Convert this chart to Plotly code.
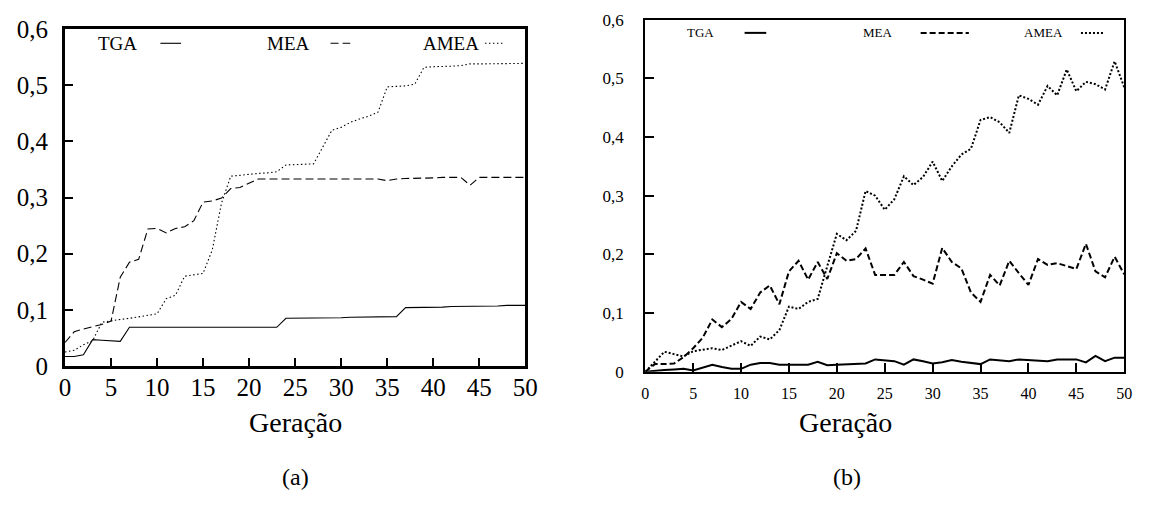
import plotly.graph_objects as go

# ---------------- data ----------------
gen = list(range(0, 51))

# panel (a)
tga_a = [0.017, 0.017, 0.02, 0.047, 0.046, 0.045, 0.044, 0.069, 0.069, 0.069,
         0.069, 0.069, 0.069, 0.069, 0.069, 0.069, 0.069, 0.069, 0.069, 0.069,
         0.069, 0.069, 0.069, 0.069, 0.085, 0.085, 0.085, 0.086, 0.086, 0.086,
         0.086, 0.087, 0.087, 0.087, 0.087, 0.088, 0.088, 0.104, 0.104, 0.105,
         0.105, 0.105, 0.106, 0.106, 0.106, 0.107, 0.107, 0.107, 0.108, 0.108,
         0.108]
mea_a = [0.042, 0.061, 0.066, 0.07, 0.074, 0.08, 0.158, 0.185, 0.19, 0.244,
         0.245, 0.237, 0.245, 0.248, 0.259, 0.292, 0.294, 0.299, 0.316, 0.318,
         0.326, 0.333, 0.333, 0.333, 0.333, 0.333, 0.333, 0.333, 0.333, 0.333,
         0.333, 0.333, 0.333, 0.333, 0.333, 0.330, 0.333, 0.334, 0.334, 0.335,
         0.335, 0.336, 0.336, 0.336, 0.322, 0.336, 0.336, 0.336, 0.336, 0.336,
         0.336]
amea_a = [0.025, 0.028, 0.038, 0.045, 0.078, 0.081, 0.083, 0.085, 0.088, 0.09,
          0.093, 0.12, 0.126, 0.16, 0.162, 0.165, 0.207, 0.29, 0.338, 0.34,
          0.341, 0.343, 0.344, 0.346, 0.358, 0.359, 0.36, 0.36, 0.39, 0.42,
          0.425, 0.434, 0.44, 0.445, 0.452, 0.497, 0.498, 0.499, 0.502, 0.532,
          0.533, 0.533, 0.534, 0.535, 0.538, 0.538, 0.538, 0.539, 0.539, 0.539,
          0.539]

# panel (b)
tga_b = [0.0, 0.002, 0.003, 0.004, 0.005, 0.002, 0.007, 0.012, 0.008, 0.005,
         0.005, 0.012, 0.015, 0.015, 0.012, 0.012, 0.011, 0.012, 0.017, 0.011,
         0.012, 0.013, 0.013, 0.014, 0.021, 0.019, 0.018, 0.012, 0.021, 0.018,
         0.014, 0.016, 0.02, 0.017, 0.015, 0.013, 0.021, 0.019, 0.018, 0.021,
         0.02, 0.019, 0.018, 0.021, 0.021, 0.021, 0.016, 0.027, 0.018, 0.024,
         0.024]
mea_b = [0.0, 0.013, 0.013, 0.014, 0.025, 0.04, 0.058, 0.089, 0.076, 0.09,
         0.119, 0.107, 0.135, 0.147, 0.115, 0.171, 0.189, 0.157, 0.187, 0.158,
         0.202, 0.189, 0.192, 0.21, 0.165, 0.165, 0.165, 0.187, 0.163, 0.157,
         0.15, 0.211, 0.187, 0.176, 0.135, 0.119, 0.165, 0.147, 0.189, 0.168,
         0.148, 0.192, 0.182, 0.185, 0.18, 0.175, 0.218, 0.171, 0.161, 0.196,
         0.166]
amea_b = [0.0, 0.017, 0.034, 0.03, 0.026, 0.035, 0.038, 0.04, 0.037, 0.045,
          0.052, 0.044, 0.06, 0.055, 0.071, 0.111, 0.107, 0.119, 0.124, 0.18,
          0.235, 0.224, 0.24, 0.308, 0.3, 0.276, 0.294, 0.333, 0.318, 0.332,
          0.358, 0.325, 0.35, 0.37, 0.38, 0.429, 0.434, 0.425, 0.407, 0.471,
          0.465, 0.455, 0.487, 0.471, 0.515, 0.478, 0.494, 0.49, 0.481, 0.529,
          0.485]

y_tickvals = [0, 0.1, 0.2, 0.3, 0.4, 0.5, 0.6]
y_ticktext = ["0", "0,1", "0,2", "0,3", "0,4", "0,5", "0,6"]
x_tickvals = [0, 5, 10, 15, 20, 25, 30, 35, 40, 45, 50]
x_ticktext = ["0", "5", "10", "15", "20", "25", "30", "35", "40", "45", "50"]
series_names = ["TGA", "MEA", "AMEA"]
x_title = "Geração"
panel_labels = ["(a)", "(b)"]

FONT = "Liberation Serif"

fig = go.Figure()

# panel (a) traces: thin lines
styles_a = ["solid", "8px,4px", "1.5px,2.5px"]
for name, ys, dash in zip(series_names, [tga_a, mea_a, amea_a], styles_a):
    fig.add_trace(go.Scatter(x=gen, y=ys, mode="lines", name=name,
                             line=dict(color="black", width=1.1, dash=dash),
                             xaxis="x", yaxis="y", showlegend=False))

# panel (b) traces: thicker lines
styles_b = ["solid", "6px,3px", "2px,2px"]
for name, ys, dash in zip(series_names, [tga_b, mea_b, amea_b], styles_b):
    fig.add_trace(go.Scatter(x=gen, y=ys, mode="lines", name=name,
                             line=dict(color="black", width=2, dash=dash),
                             xaxis="x2", yaxis="y2", showlegend=False))

W, H = 1151, 505
def px(x):
    return x / W
def py(y):
    return 1 - y / H

axis_common = dict(showgrid=False, zeroline=False, showline=True, mirror=True,
                   linecolor="black", ticks="inside", tickcolor="black")

fig.update_layout(
    width=W, height=H,
    margin=dict(l=0, r=0, t=0, b=0),
    paper_bgcolor="white", plot_bgcolor="white",
    font=dict(family=FONT, color="black"),
    xaxis=dict(domain=[px(60), px(528)], range=[0, 50], anchor="y",
               tickvals=x_tickvals, ticktext=x_ticktext, ticklen=8, tickwidth=1.5,
               ticklabelstandoff=-3,
               linewidth=3, tickfont=dict(size=25, family=FONT), **axis_common),
    yaxis=dict(domain=[py(373), py(17)], range=[0, 0.6], anchor="x",
               tickvals=y_tickvals, ticktext=y_ticktext, ticklen=8, tickwidth=1.5,
               ticklabelstandoff=9,
               linewidth=3, tickfont=dict(size=25, family=FONT), **axis_common),
    xaxis2=dict(domain=[px(650), px(1137)], range=[0, 50], anchor="y2",
                tickvals=x_tickvals, ticktext=x_ticktext, ticklen=9, tickwidth=2,
                ticklabelstandoff=6,
                linewidth=2, tickfont=dict(size=16, family=FONT), **axis_common),
    yaxis2=dict(domain=[py(379), py(7)], range=[0, 0.6], anchor="x2",
                tickvals=y_tickvals, ticktext=y_ticktext, ticklen=9, tickwidth=2,
                ticklabelstandoff=16,
                linewidth=2, tickfont=dict(size=17, family=FONT), **axis_common),
)

# legend-like labels (text before sample line)
annos = []
shapes = []
leg_a = [(92, 157, 178, "solid"), (263, 330, 350, "8px,4px"),
         (422, 487, 505, "1.5px,2.5px")]
for i, (tx, l0, l1, dash) in enumerate(leg_a):
    annos.append(dict(text=series_names[i], x=px(tx), y=py(32), xref="paper", yref="paper",
                      xanchor="left", yanchor="middle", showarrow=False,
                      font=dict(size=19, family=FONT)))
    shapes.append(dict(type="line", xref="paper", yref="paper", x0=px(l0), x1=px(l1),
                       y0=py(32), y1=py(32), line=dict(color="black", width=1.1, dash=dash)))
leg_b = [(690, 751, 773, "solid"), (869, 930, 979, "6px,3px"),
         (1033, 1093, 1117, "2px,2px")]
for i, (tx, l0, l1, dash) in enumerate(leg_b):
    annos.append(dict(text=series_names[i], x=px(tx), y=py(21), xref="paper", yref="paper",
                      xanchor="left", yanchor="middle", showarrow=False,
                      font=dict(size=13, family=FONT)))
    shapes.append(dict(type="line", xref="paper", yref="paper", x0=px(l0), x1=px(l1),
                       y0=py(21), y1=py(21), line=dict(color="black", width=2, dash=dash)))

# axis titles and panel labels
for cx in (294, 854):
    annos.append(dict(text=x_title, x=px(cx), y=py(433), xref="paper", yref="paper",
                      xanchor="center", yanchor="middle", showarrow=False,
                      font=dict(size=28, family=FONT)))
for lab, cx in zip(panel_labels, (294, 855)):
    annos.append(dict(text=lab, x=px(cx), y=py(490), xref="paper", yref="paper",
                      xanchor="center", yanchor="middle", showarrow=False,
                      font=dict(size=24, family=FONT)))

fig.update_layout(annotations=annos, shapes=shapes)

fig.write_html("out.html")
